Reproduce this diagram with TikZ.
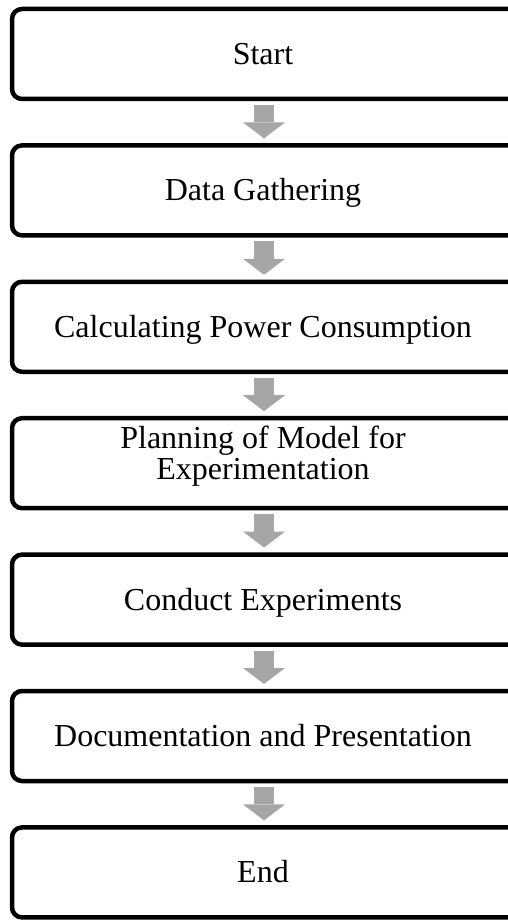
\documentclass[tikz,border=0pt]{standalone}
\usepackage{fontspec}
\setmainfont{Liberation Serif}
\usepackage{tikz}
\usetikzlibrary{positioning,arrows.meta}
\definecolor{flowgray}{HTML}{A6A6A6}
\definecolor{flowink}{HTML}{000000}

\begin{document}
\begin{tikzpicture}[
  x=1pt, y=1pt,
  font=\fontsize{32}{31}\selectfont,
  frame/.style={draw=flowink, line width=4.5pt, rounded corners=10pt, fill=white,
    minimum width=512pt, minimum height=90pt, inner sep=0pt, outer sep=0pt},
  boxtext/.style={align=center, inner sep=0pt, text height=21pt, text depth=0pt, xshift=-5pt},
  box/.style={frame, label={[boxtext]center:#1}},
  arr/.style={draw=flowgray, line width=20pt, -{Triangle[width=42pt,length=16pt,line width=0pt]},
    shorten <=6pt, shorten >=7pt}
]
\useasboundingbox (0,0) rectangle (508,-920);
\node[box=Start] (start) at (268,-54) {};
\node[box=Data Gathering, below=46.4pt of start] (gather) {};
\node[box=Calculating Power Consumption, below=46.4pt of gather] (power) {};
\node[frame, label={[boxtext, yshift=-6pt]center:Planning of Model for\\Experimentation},
  below=46.4pt of power] (plan) {};
\node[box=Conduct Experiments, below=46.4pt of plan] (exper) {};
\node[box=Documentation and Presentation, below=46.4pt of exper] (docu) {};
\node[box=End, below=46.4pt of docu] (finish) {};

\foreach \a/\b in {start/gather, gather/power, power/plan, plan/exper, exper/docu, docu/finish}
  \draw[arr] ([xshift=-4pt]\a.south) -- ([xshift=-4pt]\b.north);
\end{tikzpicture}
\end{document}
